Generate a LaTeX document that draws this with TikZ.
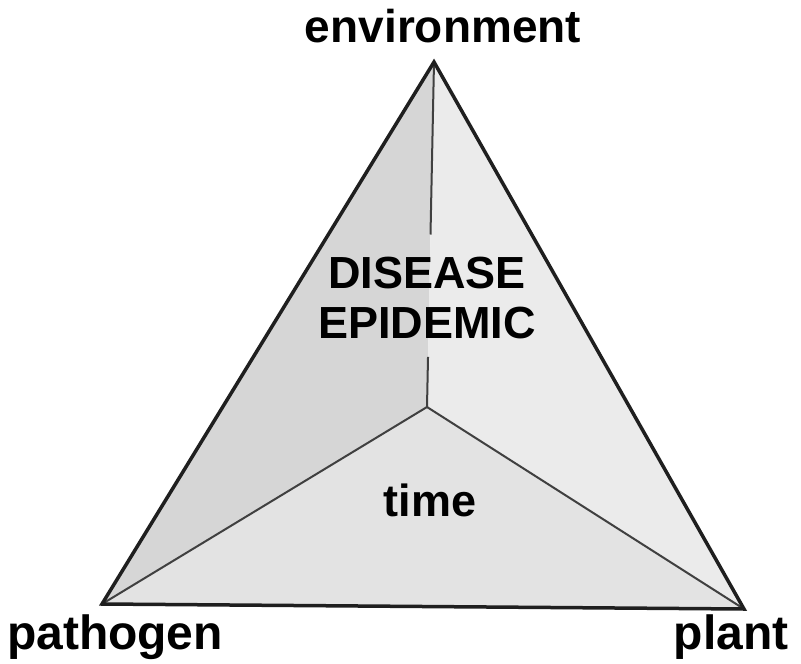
\documentclass[tikz,border=0pt]{standalone}
\usepackage{fontspec}
\usetikzlibrary{calc}
\setmainfont{Liberation Sans}
\colorlet{leftface}{black!16}
\colorlet{rightface}{black!8}
\colorlet{lowface}{black!11}
\tikzstyle{edge}=[black!88,line width=3.5pt,line join=miter]
\tikzstyle{ridge}=[black!75,line width=2pt]
\tikzstyle{corner}=[font=\fontsize{48}{48}\selectfont\bfseries,inner sep=0]
\tikzstyle{inside}=[font=\fontsize{45}{50}\selectfont\bfseries,inner sep=0,align=center]

\begin{document}
\begin{tikzpicture}[x=1pt,y=-1pt]
  \useasboundingbox (0,0) rectangle (801,664);
  \coordinate (env) at (434,62);
  \coordinate (pat) at (102,604);
  \coordinate (pla) at (744,609);
  \coordinate (mid) at (427,407);
  % faces
  \fill[leftface] (env) -- (mid) -- (pat) -- cycle;
  \fill[rightface] (env) -- (mid) -- (pla) -- cycle;
  \fill[lowface] (pat) -- (mid) -- (pla) -- cycle;
  \draw[ridge] (env) -- ($(env)!0.5!(mid)$);
  \draw[ridge] ($(env)!0.855!(mid)$) -- (mid);
  \draw[ridge] (mid) -- (pat);
  \draw[ridge] (mid) -- (pla);
  \draw[edge] (env) -- (pat) -- (pla) -- cycle;
  % labels
  \node[corner,font=\fontsize{46}{46}\selectfont\bfseries] (envtext) at (443,26) {environment};
  \node[corner] (pattext) at (115,637) {pathogen};
  \node[corner] (platext) at (731,637) {plant};
  \node[inside] (distext) at (427,298) {DISEASE\\EPIDEMIC};
  \node[inside] (timetext) at (430,500) {time};
\end{tikzpicture}
\end{document}
